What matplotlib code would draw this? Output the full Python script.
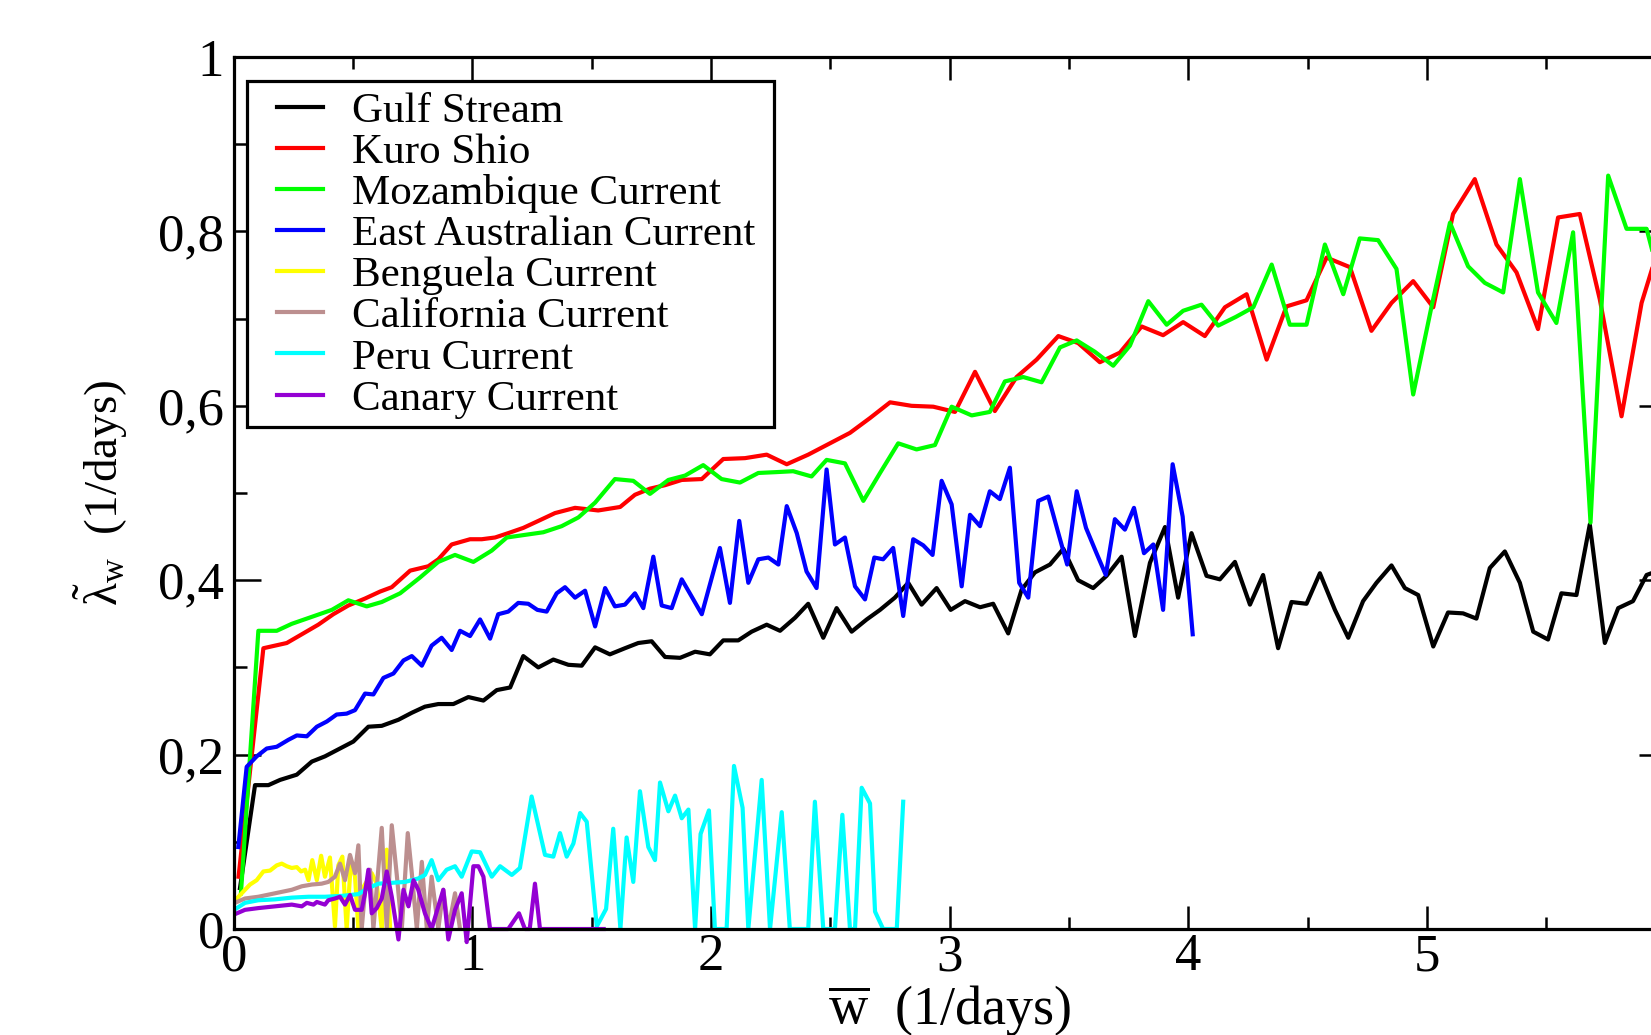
import matplotlib
matplotlib.use("Agg")
import matplotlib.pyplot as plt
from matplotlib.patches import Rectangle
from matplotlib.ticker import MultipleLocator, FixedLocator, FuncFormatter

plt.rcParams['font.family'] = ['Liberation Serif', 'DejaVu Serif']
plt.rcParams['mathtext.fontset'] = 'custom'
plt.rcParams['mathtext.rm'] = 'Liberation Serif'
plt.rcParams['mathtext.it'] = 'Liberation Serif:italic'

# Gulf Stream
gulf_x = [0.026, 0.089, 0.145, 0.194, 0.264, 0.327, 0.382, 0.438, 0.501, 0.564,
          0.620, 0.690, 0.746, 0.801, 0.857, 0.920, 0.983, 1.046, 1.102, 1.158,
          1.213, 1.276, 1.339, 1.402, 1.458, 1.514, 1.576, 1.639, 1.695, 1.751,
          1.807, 1.870, 1.933, 1.995, 2.051, 2.114, 2.170, 2.233, 2.289, 2.352,
          2.407, 2.470, 2.526, 2.589, 2.652, 2.708, 2.770, 2.826, 2.882, 2.945,
          3.004, 3.064, 3.127, 3.182, 3.245, 3.301, 3.357, 3.420, 3.476, 3.538,
          3.601, 3.657, 3.720, 3.776, 3.839, 3.902, 3.957, 4.013, 4.076, 4.132,
          4.195, 4.258, 4.313, 4.376, 4.432, 4.495, 4.551, 4.614, 4.670, 4.732,
          4.788, 4.851, 4.907, 4.963, 5.026, 5.088, 5.151, 5.207, 5.263, 5.326,
          5.389, 5.445, 5.507, 5.563, 5.626, 5.682, 5.745, 5.801, 5.863, 5.920,
          5.980]
gulf_y = [0.047, 0.165, 0.165, 0.171, 0.177, 0.192, 0.198, 0.206, 0.215, 0.232,
          0.233, 0.240, 0.248, 0.255, 0.258, 0.258, 0.266, 0.262, 0.274, 0.277,
          0.313, 0.300, 0.309, 0.303, 0.302, 0.323, 0.315, 0.322, 0.328, 0.330,
          0.312, 0.311, 0.318, 0.315, 0.331, 0.331, 0.341, 0.349, 0.342, 0.357,
          0.373, 0.334, 0.368, 0.341, 0.355, 0.366, 0.380, 0.397, 0.372, 0.391,
          0.366, 0.376, 0.369, 0.373, 0.339, 0.389, 0.409, 0.418, 0.436, 0.400,
          0.391, 0.405, 0.427, 0.336, 0.420, 0.461, 0.380, 0.454, 0.405, 0.401,
          0.421, 0.372, 0.406, 0.322, 0.375, 0.373, 0.408, 0.366, 0.334, 0.376,
          0.397, 0.417, 0.391, 0.383, 0.324, 0.363, 0.362, 0.356, 0.414, 0.433,
          0.397, 0.341, 0.332, 0.385, 0.383, 0.464, 0.328, 0.368, 0.376, 0.406,
          0.412]

# Kuro Shio
kuro_x = [0.020, 0.124, 0.173, 0.222, 0.285, 0.354, 0.417, 0.480, 0.550, 0.613,
          0.662, 0.739, 0.815, 0.857, 0.913, 0.990, 1.039, 1.095, 1.150, 1.213,
          1.276, 1.346, 1.430, 1.527, 1.619, 1.681, 1.744, 1.807, 1.877, 1.961,
          2.051, 2.142, 2.233, 2.317, 2.407, 2.491, 2.582, 2.666, 2.750, 2.840,
          2.931, 3.022, 3.106, 3.189, 3.280, 3.364, 3.455, 3.538, 3.629, 3.713,
          3.804, 3.894, 3.978, 4.069, 4.153, 4.244, 4.328, 4.411, 4.495, 4.579,
          4.677, 4.767, 4.851, 4.942, 5.026, 5.109, 5.200, 5.291, 5.375, 5.465,
          5.549, 5.640, 5.724, 5.815, 5.899, 5.980]
kuro_y = [0.060, 0.322, 0.325, 0.328, 0.338, 0.349, 0.361, 0.371, 0.379, 0.387,
          0.392, 0.411, 0.416, 0.424, 0.441, 0.447, 0.447, 0.449, 0.454, 0.460,
          0.468, 0.477, 0.483, 0.480, 0.484, 0.498, 0.505, 0.509, 0.515, 0.516,
          0.539, 0.540, 0.544, 0.533, 0.544, 0.556, 0.569, 0.586, 0.604, 0.600,
          0.599, 0.593, 0.639, 0.594, 0.633, 0.653, 0.680, 0.672, 0.650, 0.661,
          0.691, 0.681, 0.696, 0.680, 0.713, 0.728, 0.653, 0.714, 0.721, 0.770,
          0.759, 0.686, 0.718, 0.743, 0.713, 0.820, 0.860, 0.785, 0.753, 0.688,
          0.816, 0.820, 0.722, 0.588, 0.718, 0.790]

# Mozambique Current
moz_x = [0.030, 0.103, 0.180, 0.243, 0.327, 0.411, 0.480, 0.557, 0.620, 0.697,
         0.780, 0.857, 0.927, 1.004, 1.081, 1.144, 1.220, 1.297, 1.374, 1.444,
         1.514, 1.597, 1.674, 1.744, 1.821, 1.891, 1.967, 2.044, 2.121, 2.198,
         2.275, 2.344, 2.421, 2.484, 2.561, 2.638, 2.708, 2.784, 2.861, 2.938,
         3.008, 3.092, 3.168, 3.231, 3.308, 3.385, 3.462, 3.532, 3.608, 3.685,
         3.755, 3.832, 3.909, 3.978, 4.055, 4.125, 4.199, 4.272, 4.349, 4.425,
         4.495, 4.572, 4.649, 4.718, 4.795, 4.872, 4.942, 5.019, 5.096, 5.172,
         5.242, 5.319, 5.389, 5.465, 5.542, 5.612, 5.685, 5.759, 5.836, 5.920,
         5.980]
moz_y = [0.041, 0.342, 0.342, 0.350, 0.358, 0.366, 0.377, 0.370, 0.375, 0.385,
         0.403, 0.421, 0.429, 0.421, 0.434, 0.449, 0.452, 0.455, 0.462, 0.472,
         0.489, 0.516, 0.514, 0.499, 0.515, 0.520, 0.532, 0.516, 0.512, 0.523,
         0.524, 0.525, 0.519, 0.538, 0.534, 0.491, 0.523, 0.557, 0.550, 0.555,
         0.599, 0.589, 0.593, 0.628, 0.633, 0.627, 0.667, 0.675, 0.662, 0.646,
         0.669, 0.720, 0.693, 0.709, 0.716, 0.692, 0.702, 0.713, 0.762, 0.693,
         0.693, 0.785, 0.728, 0.792, 0.790, 0.757, 0.613, 0.714, 0.810, 0.760,
         0.741, 0.730, 0.860, 0.730, 0.695, 0.799, 0.466, 0.864, 0.803, 0.803,
         0.740]

# East Australian Current
ea_x = [0.019, 0.054, 0.096, 0.138, 0.180, 0.229, 0.264, 0.306, 0.348, 0.390,
        0.431, 0.473, 0.508, 0.550, 0.585, 0.627, 0.669, 0.711, 0.746, 0.788,
        0.829, 0.871, 0.913, 0.948, 0.990, 1.032, 1.074, 1.108, 1.150, 1.192,
        1.234, 1.272, 1.311, 1.353, 1.388, 1.430, 1.472, 1.514, 1.556, 1.597,
        1.639, 1.681, 1.716, 1.758, 1.793, 1.835, 1.877, 1.915, 1.961, 2.037,
        2.079, 2.118, 2.156, 2.198, 2.240, 2.282, 2.317, 2.359, 2.400, 2.442,
        2.484, 2.519, 2.561, 2.603, 2.645, 2.684, 2.721, 2.763, 2.805, 2.847,
        2.889, 2.928, 2.966, 3.008, 3.050, 3.085, 3.127, 3.168, 3.210, 3.252,
        3.291, 3.329, 3.371, 3.413, 3.455, 3.492, 3.532, 3.571, 3.615, 3.654,
        3.692, 3.734, 3.772, 3.814, 3.853, 3.894, 3.934, 3.976, 4.018]
ea_y = [0.094, 0.186, 0.198, 0.207, 0.209, 0.217, 0.222, 0.221, 0.232, 0.238,
        0.246, 0.247, 0.251, 0.270, 0.269, 0.288, 0.293, 0.308, 0.313, 0.302,
        0.325, 0.334, 0.320, 0.342, 0.336, 0.355, 0.333, 0.361, 0.364, 0.374,
        0.373, 0.366, 0.364, 0.385, 0.392, 0.380, 0.388, 0.347, 0.391, 0.370,
        0.372, 0.385, 0.368, 0.427, 0.371, 0.368, 0.401, 0.383, 0.361, 0.437,
        0.374, 0.468, 0.397, 0.424, 0.426, 0.418, 0.485, 0.454, 0.410, 0.391,
        0.527, 0.441, 0.449, 0.393, 0.378, 0.426, 0.424, 0.437, 0.359, 0.447,
        0.440, 0.429, 0.514, 0.487, 0.393, 0.475, 0.462, 0.502, 0.493, 0.529,
        0.397, 0.380, 0.491, 0.496, 0.454, 0.418, 0.502, 0.460, 0.431, 0.406,
        0.470, 0.458, 0.483, 0.431, 0.441, 0.366, 0.533, 0.473, 0.338]

# Benguela Current
beng_x = [0.013, 0.040, 0.068, 0.096, 0.124, 0.152, 0.180, 0.201, 0.222, 0.243,
          0.264, 0.282, 0.299, 0.313, 0.329, 0.348, 0.366, 0.382, 0.403, 0.424,
          0.438, 0.455, 0.473, 0.491, 0.508, 0.522, 0.536, 0.578, 0.599, 0.620,
          0.641, 0.655]
beng_y = [0.035, 0.043, 0.051, 0.056, 0.066, 0.067, 0.073, 0.075, 0.072, 0.070,
          0.071, 0.066, 0.068, 0.056, 0.079, 0.056, 0.084, 0.060, 0.082, 0.003,
          0.073, 0.083, 0.0, 0.079, 0.060, 0.0, 0.045, 0.064, 0.052, 0.0,
          0.091, 0.0]

# California Current
cal_x = [0.013, 0.047, 0.103, 0.173, 0.243, 0.285, 0.327, 0.368, 0.396, 0.424,
         0.445, 0.466, 0.487, 0.508, 0.522, 0.536, 0.550, 0.571, 0.585, 0.606,
         0.620, 0.641, 0.662, 0.683, 0.704, 0.729, 0.746, 0.767, 0.788, 0.809,
         0.829, 0.857, 0.878, 0.899, 0.927, 0.948]
cal_y = [0.031, 0.035, 0.037, 0.041, 0.045, 0.049, 0.051, 0.052, 0.054, 0.060,
         0.075, 0.056, 0.085, 0.064, 0.096, 0.0, 0.045, 0.068, 0.0, 0.070,
         0.116, 0.0, 0.119, 0.062, 0.0, 0.110, 0.064, 0.0, 0.077, 0.0,
         0.060, 0.0, 0.045, 0.0, 0.041, 0.0]

# Peru Current
peru_x = [0.013, 0.047, 0.103, 0.173, 0.243, 0.313, 0.382, 0.452, 0.522, 0.564,
          0.606, 0.662, 0.718, 0.773, 0.801, 0.829, 0.857, 0.892, 0.927, 0.955,
          0.997, 1.032, 1.081, 1.116, 1.165, 1.199, 1.248, 1.304, 1.339, 1.367,
          1.395, 1.423, 1.451, 1.479, 1.521, 1.560, 1.590, 1.620, 1.646, 1.674,
          1.702, 1.737, 1.765, 1.786, 1.821, 1.849, 1.877, 1.905, 1.933, 1.956,
          1.991, 2.016, 2.065, 2.096, 2.132, 2.156, 2.212, 2.247, 2.296, 2.330,
          2.407, 2.435, 2.470, 2.519, 2.550, 2.582, 2.603, 2.631, 2.666, 2.687,
          2.721, 2.778, 2.805]
peru_y = [0.024, 0.030, 0.033, 0.034, 0.036, 0.037, 0.037, 0.038, 0.040, 0.047,
          0.052, 0.053, 0.054, 0.058, 0.062, 0.079, 0.056, 0.068, 0.072, 0.060,
          0.089, 0.088, 0.060, 0.072, 0.062, 0.070, 0.152, 0.085, 0.083, 0.110,
          0.083, 0.098, 0.133, 0.123, 0.003, 0.023, 0.115, 0.0, 0.105, 0.054,
          0.158, 0.094, 0.079, 0.168, 0.135, 0.153, 0.127, 0.137, 0.0, 0.109,
          0.136, 0.0, 0.0, 0.187, 0.139, 0.0, 0.171, 0.0, 0.134, 0.0,
          0.0, 0.146, 0.0, 0.0, 0.131, 0.0, 0.0, 0.162, 0.144, 0.020,
          0.0, 0.0, 0.146]

# Canary Current
can_x = [0.013, 0.047, 0.103, 0.173, 0.243, 0.285, 0.306, 0.334, 0.348, 0.382,
         0.396, 0.424, 0.445, 0.466, 0.487, 0.508, 0.536, 0.550, 0.564, 0.578,
         0.599, 0.620, 0.641, 0.662, 0.690, 0.711, 0.732, 0.753, 0.773, 0.801,
         0.829, 0.857, 0.878, 0.899, 0.927, 0.955, 0.976, 1.004, 1.025, 1.046,
         1.074, 1.150, 1.195, 1.220, 1.240, 1.262, 1.283, 1.400, 1.550]
can_y = [0.018, 0.022, 0.024, 0.026, 0.028, 0.026, 0.030, 0.028, 0.031, 0.028,
         0.033, 0.035, 0.037, 0.028, 0.039, 0.022, 0.022, 0.041, 0.068, 0.018,
         0.024, 0.035, 0.066, 0.037, -0.012, 0.045, 0.026, 0.056, 0.045, 0.018,
         0.0, 0.026, 0.045, -0.012, 0.022, 0.041, -0.015, 0.072, 0.072, 0.060,
         0.0, 0.0, 0.018, 0.0, 0.0, 0.052, 0.0, 0.0, 0.0]

labels = ["Gulf Stream", "Kuro Shio", "Mozambique Current",
          "East Australian Current", "Benguela Current", "California Current",
          "Peru Current", "Canary Current"]
colors = ["#000000", "#ff0000", "#00ff00", "#0000ff",
          "#ffff00", "#bc8f8f", "#00ffff", "#9400d3"]
xs = [gulf_x, kuro_x, moz_x, ea_x, beng_x, cal_x, peru_x, can_x]
ys = [gulf_y, kuro_y, moz_y, ea_y, beng_y, cal_y, peru_y, can_y]


def comma(v, pos):
    return ('%g' % v).replace('.', ',')


fig = plt.figure(figsize=(16.51, 10.35), dpi=100)
ax = fig.add_axes([0.1416, 0.1024, 0.8673, 0.8425])

for lab, x, y, c in zip(labels, xs, ys, colors):
    ax.plot(x, y, color=c, lw=3.0, label=lab,
            clip_on=(lab != "Canary Current"))

ax.set_xlim(0, 6)
ax.set_ylim(0, 1)
# the "6" sits on the cropped right edge, so only 0..5 get a label
ax.xaxis.set_major_locator(FixedLocator([0, 1, 2, 3, 4, 5]))
ax.xaxis.set_minor_locator(MultipleLocator(0.5))
ax.yaxis.set_major_locator(MultipleLocator(0.2))
ax.yaxis.set_minor_locator(MultipleLocator(0.1))
ax.xaxis.set_major_formatter(FuncFormatter(comma))
ax.yaxis.set_major_formatter(FuncFormatter(comma))

ax.tick_params(which='both', direction='in', top=True, right=True,
               width=1.8, labelsize=38)
ax.tick_params(axis='x', which='major', length=16.8, pad=3)
ax.tick_params(axis='x', which='minor', length=8.4)
ax.tick_params(axis='y', which='major', length=19.2, pad=7)
ax.tick_params(axis='y', which='minor', length=9.6)
for s in ax.spines.values():
    s.set_linewidth(2.3)

ax.set_xlabel(r'$\overline{\mathrm{w}}$  (1/days)', fontsize=39)
ax.set_ylabel(r'$\tilde{\mathrm{\lambda}}_{\mathrm{w}}$  (1/days)', fontsize=34)
ax.xaxis.set_label_coords(0.5, -0.062)
ax.yaxis.set_label_coords(-0.0724, 0.5)

# legend box drawn by hand so the side padding can differ from the top one
ax.add_patch(Rectangle((0.0093, 0.5757), 0.368, 0.3968, transform=ax.transAxes,
                       facecolor='white', edgecolor='black', lw=2.3, zorder=4))
leg = ax.legend(loc='upper left', bbox_to_anchor=(0.0302, 0.9600),
                fontsize=31, frameon=False, borderpad=0, borderaxespad=0,
                labelspacing=0.045, handlelength=1.07, handletextpad=0.68)
leg.set_zorder(5)

fig.savefig("out.png", dpi=100)
